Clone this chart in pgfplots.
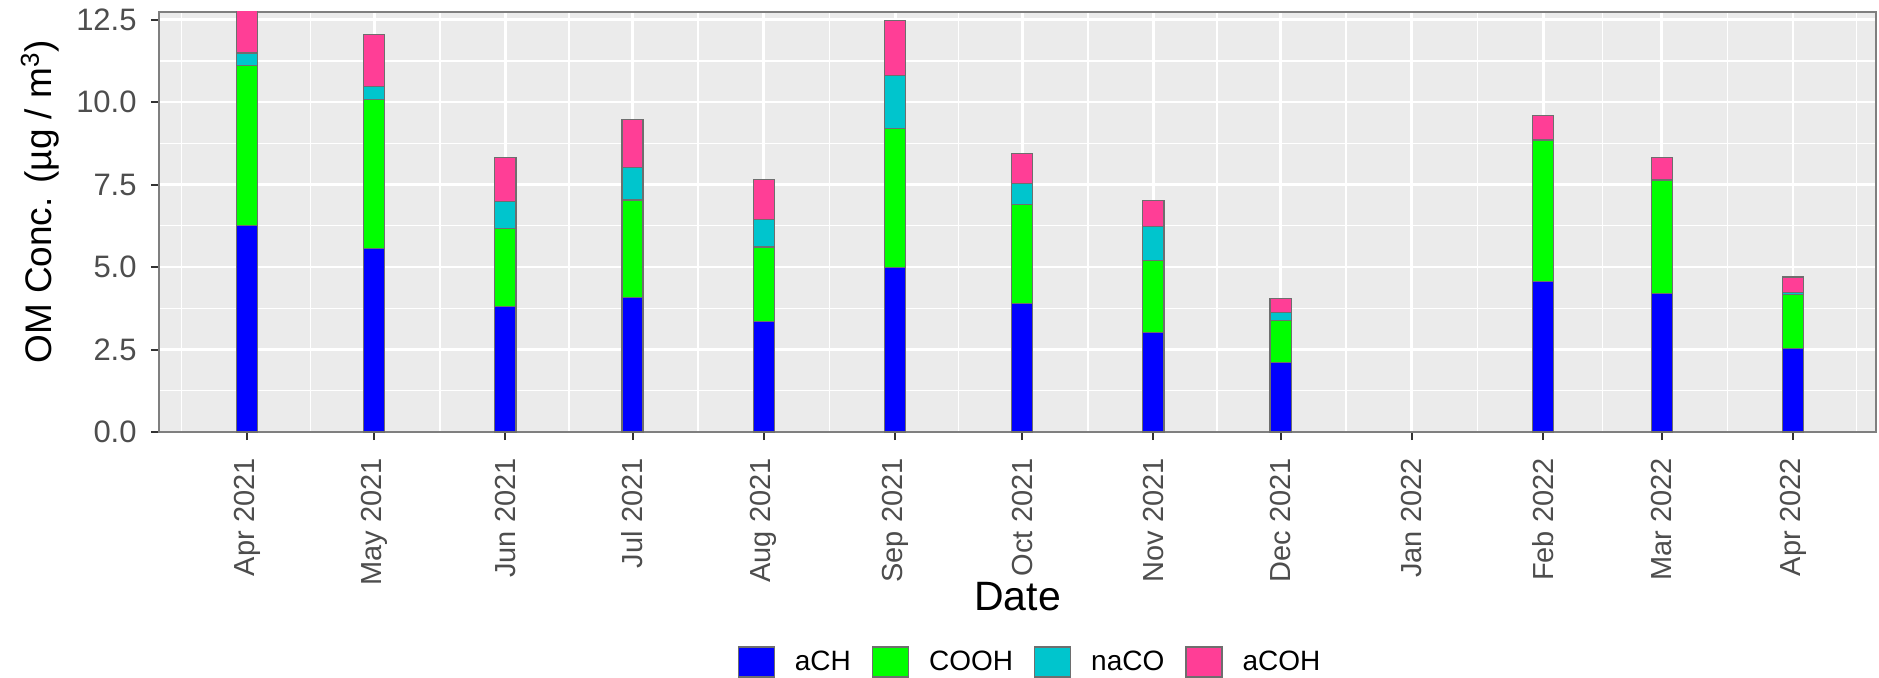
\documentclass[border=0pt]{standalone}
\usepackage{fontspec}
\setmainfont{Liberation Sans}
\usepackage{pgfplots}
\usepackage{pgfplotstable}
\pgfplotsset{compat=1.18}
\definecolor{panelbg}{HTML}{EBEBEB}
\definecolor{tickgrey}{HTML}{4D4D4D}
\definecolor{tickline}{HTML}{333333}
\definecolor{bordergrey}{HTML}{7F7F7F}
\definecolor{barline}{HTML}{6E6E6E}
\definecolor{caCH}{HTML}{0000FF}
\definecolor{cCOOH}{HTML}{00FF00}
\definecolor{cnaCO}{HTML}{00C5CD}
\definecolor{caCOH}{HTML}{FF3E96}
\pgfplotsset{sqlegend/.style={legend image code/.code={\draw[##1] (0bp,-7.5bp) rectangle (18bp,7.5bp);}}}

% x = days after 1 Apr 2021
\pgfplotstableread{
x   aCH  COOH naCO aCOH
0   6.25 4.86 0.38 1.45
30  5.57 4.50 0.39 1.60
61  3.80 2.36 0.83 1.33
91  4.08 2.95 0.99 1.46
122 3.35 2.26 0.84 1.20
153 4.99 4.21 1.61 1.66
183 3.90 3.00 0.64 0.90
214 3.02 2.18 1.02 0.80
244 2.10 1.27 0.25 0.43
306 4.56 4.29 0.02 0.72
334 4.19 3.44 0.02 0.66
365 2.52 1.64 0.08 0.46
}\omdata

\begin{document}
\begin{tikzpicture}
\useasboundingbox (-79.5bp,-123bp) rectangle (860bp,216bp);
\begin{axis}[
  at={(0,0)}, anchor=south west,
  scale only axis, width=858.5bp, height=210bp,
  xmin=-20.8, xmax=384.6, ymin=0, ymax=12.73,
  ybar stacked, bar width=5,
  axis background/.style={fill=panelbg},
  axis line style={bordergrey, line width=1bp},
  tick pos=left, tick align=outside,
  major tick length=4bp, minor tick length=0pt,
  major tick style={tickline, line width=1bp},
  grid=both,
  major grid style={white, line width=1.4bp},
  minor grid style={white, line width=0.7bp},
  xtick={0,30,61,91,122,153,183,214,244,275,306,334,365},
  xticklabels={Apr 2021,May 2021,Jun 2021,Jul 2021,Aug 2021,Sep 2021,Oct 2021,Nov 2021,Dec 2021,Jan 2022,Feb 2022,Mar 2022,Apr 2022},
  minor xtick={-15.5,15,45.5,76,106.5,137.5,168,198.5,229,259.5,290.5,320,349.5,380},
  ytick={0,2.5,5,7.5,10,12.5},
  yticklabels={0.0,2.5,5.0,7.5,10.0,12.5},
  minor ytick={1.25,3.75,6.25,8.75,11.25},
  /pgf/number format/assume math mode=true,
  yticklabel style={font=\fontsize{15.5bp}{18bp}\selectfont, text=tickgrey, inner xsep=7bp, inner ysep=0pt},
  xticklabel style={font=\fontsize{14.5bp}{17bp}\selectfont, text=tickgrey, rotate=90, anchor=east, inner xsep=9bp, inner ysep=0pt},
  xlabel={Date},
  xlabel style={font=\fontsize{20.5bp}{23bp}\selectfont, at={(axis description cs:0.5,-0.3929)}, anchor=center},
  ylabel={OM Conc. (µg / m\textsuperscript{3})},
  ylabel style={font=\fontsize{18.5bp}{21bp}\selectfont, at={(axis description cs:-0.0693,0.548)}, anchor=center},
  legend columns=4,
  legend style={at={(axis description cs:0.5067,-0.5476)}, anchor=center, draw=none, fill=none,
    font=\fontsize{14bp}{16bp}\selectfont,
    nodes={inner sep=0pt},
    /tikz/every odd column/.append style={column sep=10bp},
    /tikz/every even column/.append style={column sep=10.5bp}},
  legend cell align=left,
]
\addplot[fill=caCH, draw=barline, line width=0.6bp, sqlegend] table[x=x, y=aCH] {\omdata};
\addplot[fill=cCOOH, draw=barline, line width=0.6bp, sqlegend] table[x=x, y=COOH] {\omdata};
\addplot[fill=cnaCO, draw=barline, line width=0.6bp, sqlegend] table[x=x, y=naCO] {\omdata};
\addplot[fill=caCOH, draw=barline, line width=0.6bp, sqlegend] table[x=x, y=aCOH] {\omdata};
\legend{aCH, COOH, naCO, aCOH}
\end{axis}
\end{tikzpicture}
\end{document}
